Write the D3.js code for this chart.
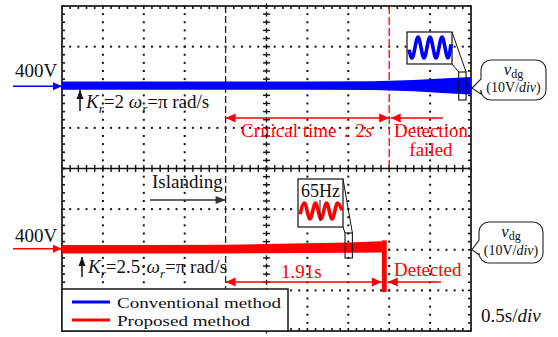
<!DOCTYPE html>
<html>
<head>
<meta charset="utf-8">
<script src="https://cdn.jsdelivr.net/npm/d3@7"></script>
<style>
  html, body { margin: 0; padding: 0; background: #fff; }
  svg { display: block; }
  text { font-family: "Liberation Serif", "Times New Roman", serif; }
</style>
</head>
<body>
<div id="chart"></div>
<script>
// ---- data -------------------------------------------------------------
// time axis: 0.5 s/div, 10 divisions; vdg axis: 10 V/div around 400 V
const timeTicks = [0, 0.5, 1, 1.5, 2, 2.5, 3, 3.5, 4, 4.5, 5];
const voltTicks = [380, 390, 400, 410, 420];
const nominalV = 400;

// conventional method (blue) - envelope of v_dg
const blueT  = [0, 1, 2, 3, 3.8, 4.3, 4.7, 5.0];
const blueHi = [401.4, 401.4, 401.4, 401.4, 401.5, 401.8, 402.2, 402.5];
const blueLo = [399.4, 399.4, 399.4, 399.4, 399.3, 399.0, 398.5, 398.2];

// proposed method (red) - envelope of v_dg until detection
const redT  = [0, 1, 2, 2.5, 3, 3.5, 3.91];
const redHi = [401.2, 401.2, 401.25, 401.4, 401.6, 401.8, 402.1];
const redLo = [399.1, 399.1, 399.1, 399.15, 399.2, 399.25, 399.3];
const dropT  = [3.91, 3.97];
const dropHi = [402.3, 402.3];
const dropLo = [389.6, 389.6];

// event times (s)
const islandingT = 2.0;
const criticalTime = 2;     // s
const detectionTime = 1.91; // s

// zoomed waveforms (half-period steps, normalised amplitude)
const blueZoomStep = [0, 0.5, 1.5, 2.5, 3.5, 4.5, 5.5, 6.5, 7];
const blueZoomAmp  = [-0.2, -1, 1, -1, 1, -1, 1, -1, 0.3];
const redZoomStep  = [0, 0.8, 1.8, 2.8, 3.8, 4.8, 5.8, 6.8, 7.6];
const redZoomAmp   = [-0.4, 1, -1, 1, -1, 1, -1, 1, 0.1];
const zoomWindowBlue = [4.85, 4.94];
const zoomWindowRed  = [3.46, 3.55];

const legendItems = ["Conventional method", "Proposed method"];
const legendColors = ["#0000ff", "#ff0000"];

// ---- layout -----------------------------------------------------------
const W = 558, H = 337;
const BLUE = "#0000ff", RED = "#ff0000", INK = "#111";
const svg = d3.select("#chart").append("svg").attr("width", W).attr("height", H);

const x = d3.scaleLinear().domain([0, 5]).range([62, 471]);
const yTop = d3.scaleLinear().domain([380, 420]).range([168.5, 6]);
const yBot = d3.scaleLinear().domain([380, 420]).range([331, 168.5]);

// ---- grid -------------------------------------------------------------
const grid = svg.append("g");
const minorT = d3.range(0, 51).map(i => i * 0.1);
const minorV = d3.range(0, 21).map(i => 380 + i * 2);

[["top", yTop], ["bot", yBot]].forEach(([name, y]) => {
  // vertical dotted lines
  timeTicks.forEach(t => {
    if (t === 0 || t === 5 || t === 2.5 || t === islandingT) return;
    if (name === "top" && t === islandingT + criticalTime) return;
    minorV.forEach(v => {
      grid.append("rect").attr("x", x(t) - 1).attr("y", y(v) - 1)
        .attr("width", 2).attr("height", 2).attr("fill", INK);
    });
  });
  // horizontal dotted lines
  voltTicks.forEach(v => {
    if (v === 380 || v === 420) return;
    minorT.forEach(t => {
      grid.append("rect").attr("x", x(t) - 1).attr("y", y(v) - 1)
        .attr("width", 2).attr("height", 2).attr("fill", INK);
    });
  });
});

// border ticks (inside the frame)
minorT.forEach(t => {
  grid.append("line").attr("x1", x(t)).attr("x2", x(t))
    .attr("y1", yTop(420)).attr("y2", yTop(420) + 3).attr("stroke", INK).attr("stroke-width", 1.6);
  grid.append("line").attr("x1", x(t)).attr("x2", x(t))
    .attr("y1", yBot(380)).attr("y2", yBot(380) - 3).attr("stroke", INK).attr("stroke-width", 1.6);
  // centre horizontal axis ticks
  grid.append("line").attr("x1", x(t)).attr("x2", x(t))
    .attr("y1", yTop(380) - 3.5).attr("y2", yTop(380) + 3.5).attr("stroke", INK).attr("stroke-width", 1.4);
});
minorV.forEach(v => {
  [yTop, yBot].forEach(y => {
    grid.append("line").attr("x1", x(0)).attr("x2", x(0) + 3)
      .attr("y1", y(v)).attr("y2", y(v)).attr("stroke", INK).attr("stroke-width", 1.6);
    grid.append("line").attr("x1", x(5)).attr("x2", x(5) - 3)
      .attr("y1", y(v)).attr("y2", y(v)).attr("stroke", INK).attr("stroke-width", 1.6);
    // centre vertical axis: small crosses
    grid.append("line").attr("x1", x(2.5) - 3.5).attr("x2", x(2.5) + 3.5)
      .attr("y1", y(v)).attr("y2", y(v)).attr("stroke", INK).attr("stroke-width", 1.4);
    grid.append("line").attr("x1", x(2.5)).attr("x2", x(2.5))
      .attr("y1", y(v) - 2.5).attr("y2", y(v) + 2.5).attr("stroke", INK).attr("stroke-width", 1.4);
  });
});
// centre horizontal axis
grid.append("line").attr("x1", x(0)).attr("x2", x(5))
  .attr("y1", yTop(380)).attr("y2", yTop(380)).attr("stroke", INK).attr("stroke-width", 1.4);
// frame
grid.append("rect").attr("x", x(0)).attr("y", yTop(420))
  .attr("width", x(5) - x(0)).attr("height", yBot(380) - yTop(420))
  .attr("fill", "none").attr("stroke", "#222").attr("stroke-width", 1.8);

// islanding instant (black dashed) and end of critical time (red dashed)
svg.append("line").attr("x1", x(islandingT)).attr("x2", x(islandingT))
  .attr("y1", yTop(420)).attr("y2", yBot(380))
  .attr("stroke", "#222").attr("stroke-width", 1.3).attr("stroke-dasharray", "7 3");
svg.append("line").attr("x1", x(islandingT + criticalTime)).attr("x2", x(islandingT + criticalTime))
  .attr("y1", yTop(420)).attr("y2", yTop(380))
  .attr("stroke", RED).attr("stroke-width", 1.3).attr("stroke-dasharray", "8 3");

// ---- traces -----------------------------------------------------------
function band(ts, hi, lo, y) {
  return d3.area().x((d, i) => x(ts[i])).y0((d, i) => y(lo[i])).y1((d, i) => y(hi[i]))(ts);
}
svg.append("path").attr("d", band(blueT, blueHi, blueLo, yTop)).attr("fill", BLUE);
svg.append("path").attr("d", band(redT, redHi, redLo, yBot)).attr("fill", RED);
svg.append("path").attr("d", band(dropT, dropHi, dropLo, yBot)).attr("fill", RED);

// ---- arrows -----------------------------------------------------------
function head(g, tx, ty, ang, color, len = 10, wid = 9) {
  const a = ang, c = Math.cos(a), s = Math.sin(a);
  const bx = tx - c * len, by = ty - s * len;
  const px = -s * wid / 2, py = c * wid / 2;
  g.append("path").attr("d", `M${tx},${ty}L${bx + px},${by + py}L${bx - px},${by - py}Z`).attr("fill", color);
}
function arrow(x1, y1, x2, y2, color, opts = {}) {
  const g = svg.append("g");
  const w = opts.width || 1.5, len = opts.len || 10, wid = opts.wid || 9;
  g.append("line").attr("x1", x1).attr("y1", y1).attr("x2", x2).attr("y2", y2)
    .attr("stroke", color).attr("stroke-width", w);
  const ang = Math.atan2(y2 - y1, x2 - x1);
  head(g, x2, y2, ang, color, len, wid);
  if (opts.both) head(g, x1, y1, ang + Math.PI, color, len, wid);
}

// 400 V markers
arrow(13, yTop(nominalV) - 1, x(0), yTop(nominalV) - 1, BLUE, { width: 1.5, len: 9, wid: 8 });
arrow(13, yBot(nominalV) - 1, x(0), yBot(nominalV) - 1, RED, { width: 1.5, len: 9, wid: 8 });

// critical time / detection spans
const yCrit = 118;
arrow(x(islandingT), yCrit, x(islandingT + criticalTime), yCrit, RED, { both: true });
arrow(443, yCrit, x(islandingT + criticalTime) + 1.5, yCrit, RED);
const yDet = 282;
arrow(x(islandingT), yDet, x(islandingT + detectionTime), yDet, RED, { both: true });
arrow(441, yDet, x(dropT[1]) + 1, yDet, RED);

// islanding arrow
arrow(150, 200, x(islandingT), 200, "#333", { width: 1.5, len: 10, wid: 8 });

// parameter pointers
arrow(80, 111, 80, 90, INK, { width: 1.5, len: 9, wid: 7 });
arrow(82, 277, 82, 257, INK, { width: 1.5, len: 9, wid: 7 });

// ---- text -------------------------------------------------------------
function rich(xp, yp, parts, opts = {}) {
  const t = svg.append("text").attr("x", xp).attr("y", yp)
    .attr("font-size", opts.size || 19).attr("fill", opts.color || INK)
    .attr("text-anchor", opts.anchor || "start");
  let shift = 0;
  parts.forEach(p => {
    const s = t.append("tspan").text(p.t);
    if (p.i) s.attr("font-style", "italic");
    const want = p.sub ? (p.subDy || 5) : 0;
    if (want !== shift) { s.attr("dy", want - shift); shift = want; }
    if (p.sub) s.attr("font-size", p.size || 13);
    else if (p.size) s.attr("font-size", p.size);
  });
  return t;
}

rich(15, 77, [{ t: "400V" }]);
rich(15, 242, [{ t: "400V" }]);

rich(86, 108, [
  { t: "K", i: true }, { t: "r", i: true, sub: true }, { t: "=2 " },
  { t: "ω", i: true }, { t: "r", i: true, sub: true }, { t: "=π rad/s" }
]);
rich(88, 273, [
  { t: "K", i: true }, { t: "r", i: true, sub: true }, { t: "=2.5·" },
  { t: "ω", i: true }, { t: "r", i: true, sub: true }, { t: "=π rad/s" }
]);

rich(241, 137, [{ t: "Critical time：" }, { t: "2" }, { t: "s", i: true }], { color: RED });
rich(431, 137, [{ t: "Detection" }], { color: RED, anchor: "middle" });
rich(431, 156, [{ t: "failed" }], { color: RED, anchor: "middle" });
rich(152, 188, [{ t: "Islanding" }]);
rich(281, 278, [{ t: "1.91s" }], { color: RED });
rich(394, 276, [{ t: "Detected" }], { color: RED });
rich(481, 322, [{ t: "0.5s/" }, { t: "div", i: true }]);

// ---- zoom insets ------------------------------------------------------
function inset(box, src, steps, amps, color, win, y) {
  const g = svg.append("g");
  // source window on the trace
  const sx0 = x(win[0]), sx1 = x(win[1]);
  const sy0 = src[0], sy1 = src[1];
  g.append("line").attr("x1", box.x + box.w).attr("y1", box.y).attr("x2", sx1).attr("y2", sy0)
    .attr("stroke", INK).attr("stroke-width", 1);
  g.append("line").attr("x1", box.x + box.w).attr("y1", box.y + box.h).attr("x2", sx0).attr("y2", sy0)
    .attr("stroke", INK).attr("stroke-width", 1);
  g.append("rect").attr("x", sx0).attr("y", sy0).attr("width", sx1 - sx0).attr("height", sy1 - sy0)
    .attr("fill", "none").attr("stroke", INK).attr("stroke-width", 1.1);
  g.append("rect").attr("x", box.x).attr("y", box.y).attr("width", box.w).attr("height", box.h)
    .attr("fill", "#fff").attr("stroke", INK).attr("stroke-width", 1.2);
  const zx = d3.scaleLinear().domain(d3.extent(steps)).range([box.x + 2, box.x + box.w - 1]);
  const zy = d3.scaleLinear().domain([-1, 1]).range(y);
  const line = d3.line().x((d, i) => zx(steps[i])).y((d, i) => zy(amps[i])).curve(d3.curveMonotoneX);
  g.append("path").attr("d", line(steps)).attr("fill", "none")
    .attr("stroke", color).attr("stroke-width", 3.6).attr("stroke-linejoin", "round");
  return g;
}

inset({ x: 407, y: 32, w: 45, h: 32 }, [72, 100], blueZoomStep, blueZoomAmp, BLUE, zoomWindowBlue, [58, 37]);
const ri = inset({ x: 298, y: 179, w: 45, h: 48 }, [233, 258], redZoomStep, redZoomAmp, RED, zoomWindowRed, [219, 203]);
ri.append("line").attr("x1", 320).attr("x2", 320).attr("y1", 200).attr("y2", 221)
  .attr("stroke", INK).attr("stroke-width", 1);
ri.append("text").attr("x", 320.5).attr("y", 197).attr("text-anchor", "middle")
  .attr("font-size", 18).attr("fill", INK).text("65Hz");

// ---- legend -----------------------------------------------------------
const lg = svg.append("g");
lg.append("rect").attr("x", x(0)).attr("y", 289).attr("width", 226).attr("height", 42)
  .attr("fill", "#fff").attr("stroke", "#222").attr("stroke-width", 1.6);
legendItems.forEach((name, i) => {
  const yy = 302 + i * 18;
  lg.append("line").attr("x1", 72).attr("x2", 110).attr("y1", yy).attr("y2", yy)
    .attr("stroke", legendColors[i]).attr("stroke-width", 3);
  lg.append("text").attr("x", 117).attr("y", yy + 5.5).attr("font-size", 15.5)
    .attr("fill", INK).text(name)
    .attr("textLength", i === 0 ? 164 : 133).attr("lengthAdjust", "spacingAndGlyphs");
});

// ---- v_dg callouts ----------------------------------------------------
function callout(L, T, R, B, tipY, pTop, pBot) {
  const r = 10, tipX = x(5) + 1;
  const p = d3.path();
  p.moveTo(L + r, T);
  p.lineTo(R - r, T); p.arcTo(R, T, R, T + r, r);
  p.lineTo(R, B - r); p.arcTo(R, B, R - r, B, r);
  p.lineTo(L + r, B); p.arcTo(L, B, L, B - r, r);
  p.lineTo(L, pBot); p.lineTo(tipX, tipY); p.lineTo(L, pTop);
  p.lineTo(L, T + r); p.arcTo(L, T, L + r, T, r);
  p.closePath();
  svg.append("path").attr("d", p.toString()).attr("fill", "#fff").attr("stroke", "#222").attr("stroke-width", 1.1);
  const cx = (L + R) / 2;
  rich(cx, T + 15, [{ t: "v", i: true, size: 17 }, { t: "dg", sub: true, size: 12, subDy: 3 }], { size: 17, anchor: "middle" });
  rich(cx, B - 8, [{ t: "(10V/" }, { t: "div", i: true }, { t: ")" }], { size: 14, anchor: "middle" });
}
callout(481, 60, 546, 100, yTop(nominalV) + 1, 79, 94);
callout(479, 222, 543, 263, yBot(nominalV), 240, 255);
</script>
</body>
</html>
